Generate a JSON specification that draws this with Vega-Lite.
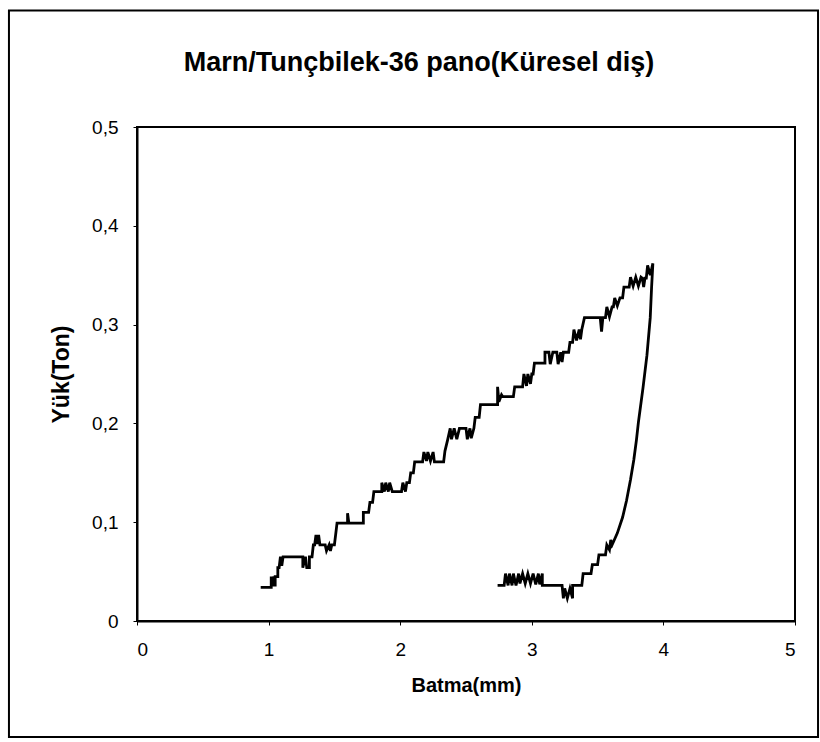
{
  "$schema": "https://vega.github.io/schema/vega-lite/v6.json",
  "autosize": {"type": "none"},
  "padding": {"left": 137, "top": 127, "right": 25, "bottom": 121},
  "width": 658,
  "height": 494,
  "background": "white",
  "title": {
    "text": "Marn/Tunçbilek-36 pano(Küresel diş)",
    "font": "Liberation Sans",
    "fontSize": 27,
    "fontWeight": "bold",
    "color": "black",
    "anchor": "middle",
    "frame": "group",
    "dx": -47,
    "offset": 0,
    "dy": 68
  },
  "config": {
    "view": {"stroke": "black", "strokeWidth": 2},
    "axis": {
      "domainColor": "black",
      "domainWidth": 2,
      "tickColor": "black",
      "tickSize": 4,
      "grid": false,
      "labelFont": "Liberation Sans",
      "labelFontSize": 19,
      "labelColor": "black",
      "titleFont": "Liberation Sans",
      "titleFontWeight": "bold",
      "titleColor": "black"
    }
  },
  "datasets": {
    "curve": [
      {"i": 1, "x": 0.94, "y": 0.034},
      {"i": 2, "x": 1.02, "y": 0.034},
      {"i": 3, "x": 1.02, "y": 0.045},
      {"i": 4, "x": 1.03, "y": 0.035},
      {"i": 5, "x": 1.04, "y": 0.045},
      {"i": 6, "x": 1.05, "y": 0.035},
      {"i": 7, "x": 1.05, "y": 0.045},
      {"i": 8, "x": 1.07, "y": 0.045},
      {"i": 9, "x": 1.07, "y": 0.054},
      {"i": 10, "x": 1.08, "y": 0.054},
      {"i": 11, "x": 1.09, "y": 0.065},
      {"i": 12, "x": 1.10, "y": 0.056},
      {"i": 13, "x": 1.11, "y": 0.065},
      {"i": 14, "x": 1.26, "y": 0.065},
      {"i": 15, "x": 1.26, "y": 0.054},
      {"i": 16, "x": 1.28, "y": 0.065},
      {"i": 17, "x": 1.29, "y": 0.054},
      {"i": 18, "x": 1.31, "y": 0.054},
      {"i": 19, "x": 1.31, "y": 0.065},
      {"i": 20, "x": 1.33, "y": 0.065},
      {"i": 21, "x": 1.34, "y": 0.077},
      {"i": 22, "x": 1.35, "y": 0.077},
      {"i": 23, "x": 1.36, "y": 0.087},
      {"i": 24, "x": 1.37, "y": 0.078},
      {"i": 25, "x": 1.38, "y": 0.087},
      {"i": 26, "x": 1.39, "y": 0.077},
      {"i": 27, "x": 1.43, "y": 0.077},
      {"i": 28, "x": 1.44, "y": 0.071},
      {"i": 29, "x": 1.46, "y": 0.077},
      {"i": 30, "x": 1.47, "y": 0.071},
      {"i": 31, "x": 1.48, "y": 0.077},
      {"i": 32, "x": 1.50, "y": 0.077},
      {"i": 33, "x": 1.51, "y": 0.088},
      {"i": 34, "x": 1.52, "y": 0.099},
      {"i": 35, "x": 1.60, "y": 0.099},
      {"i": 36, "x": 1.60, "y": 0.109},
      {"i": 37, "x": 1.61, "y": 0.099},
      {"i": 38, "x": 1.72, "y": 0.099},
      {"i": 39, "x": 1.72, "y": 0.11},
      {"i": 40, "x": 1.76, "y": 0.11},
      {"i": 41, "x": 1.77, "y": 0.12},
      {"i": 42, "x": 1.79, "y": 0.12},
      {"i": 43, "x": 1.80, "y": 0.131},
      {"i": 44, "x": 1.86, "y": 0.131},
      {"i": 45, "x": 1.86, "y": 0.14},
      {"i": 46, "x": 1.88, "y": 0.131},
      {"i": 47, "x": 1.89, "y": 0.14},
      {"i": 48, "x": 1.91, "y": 0.131},
      {"i": 49, "x": 1.92, "y": 0.14},
      {"i": 50, "x": 1.94, "y": 0.131},
      {"i": 51, "x": 2.01, "y": 0.131},
      {"i": 52, "x": 2.02, "y": 0.14},
      {"i": 53, "x": 2.04, "y": 0.131},
      {"i": 54, "x": 2.05, "y": 0.14},
      {"i": 55, "x": 2.07, "y": 0.14},
      {"i": 56, "x": 2.08, "y": 0.15},
      {"i": 57, "x": 2.10, "y": 0.15},
      {"i": 58, "x": 2.11, "y": 0.161},
      {"i": 59, "x": 2.17, "y": 0.161},
      {"i": 60, "x": 2.18, "y": 0.171},
      {"i": 61, "x": 2.20, "y": 0.162},
      {"i": 62, "x": 2.21, "y": 0.171},
      {"i": 63, "x": 2.23, "y": 0.162},
      {"i": 64, "x": 2.25, "y": 0.171},
      {"i": 65, "x": 2.26, "y": 0.161},
      {"i": 66, "x": 2.33, "y": 0.161},
      {"i": 67, "x": 2.34, "y": 0.172},
      {"i": 68, "x": 2.36, "y": 0.183},
      {"i": 69, "x": 2.38, "y": 0.195},
      {"i": 70, "x": 2.39, "y": 0.184},
      {"i": 71, "x": 2.41, "y": 0.195},
      {"i": 72, "x": 2.43, "y": 0.184},
      {"i": 73, "x": 2.45, "y": 0.195},
      {"i": 74, "x": 2.50, "y": 0.195},
      {"i": 75, "x": 2.51, "y": 0.184},
      {"i": 76, "x": 2.53, "y": 0.195},
      {"i": 77, "x": 2.54, "y": 0.185},
      {"i": 78, "x": 2.56, "y": 0.195},
      {"i": 79, "x": 2.57, "y": 0.206},
      {"i": 80, "x": 2.60, "y": 0.206},
      {"i": 81, "x": 2.61, "y": 0.219},
      {"i": 82, "x": 2.74, "y": 0.219},
      {"i": 83, "x": 2.74, "y": 0.237},
      {"i": 84, "x": 2.75, "y": 0.222},
      {"i": 85, "x": 2.77, "y": 0.229},
      {"i": 86, "x": 2.78, "y": 0.227},
      {"i": 87, "x": 2.86, "y": 0.227},
      {"i": 88, "x": 2.87, "y": 0.237},
      {"i": 89, "x": 2.93, "y": 0.237},
      {"i": 90, "x": 2.94, "y": 0.25},
      {"i": 91, "x": 2.96, "y": 0.238},
      {"i": 92, "x": 2.97, "y": 0.25},
      {"i": 93, "x": 2.99, "y": 0.24},
      {"i": 94, "x": 3.00, "y": 0.25},
      {"i": 95, "x": 3.01, "y": 0.25},
      {"i": 96, "x": 3.02, "y": 0.261},
      {"i": 97, "x": 3.10, "y": 0.261},
      {"i": 98, "x": 3.10, "y": 0.272},
      {"i": 99, "x": 3.13, "y": 0.272},
      {"i": 100, "x": 3.14, "y": 0.26},
      {"i": 101, "x": 3.16, "y": 0.272},
      {"i": 102, "x": 3.19, "y": 0.272},
      {"i": 103, "x": 3.20, "y": 0.26},
      {"i": 104, "x": 3.22, "y": 0.272},
      {"i": 105, "x": 3.23, "y": 0.262},
      {"i": 106, "x": 3.24, "y": 0.272},
      {"i": 107, "x": 3.28, "y": 0.272},
      {"i": 108, "x": 3.29, "y": 0.282},
      {"i": 109, "x": 3.31, "y": 0.282},
      {"i": 110, "x": 3.32, "y": 0.295},
      {"i": 111, "x": 3.34, "y": 0.284},
      {"i": 112, "x": 3.36, "y": 0.295},
      {"i": 113, "x": 3.37, "y": 0.285},
      {"i": 114, "x": 3.38, "y": 0.295},
      {"i": 115, "x": 3.40, "y": 0.307},
      {"i": 116, "x": 3.52, "y": 0.307},
      {"i": 117, "x": 3.53, "y": 0.293},
      {"i": 118, "x": 3.54, "y": 0.307},
      {"i": 119, "x": 3.56, "y": 0.307},
      {"i": 120, "x": 3.57, "y": 0.318},
      {"i": 121, "x": 3.59, "y": 0.308},
      {"i": 122, "x": 3.61, "y": 0.318},
      {"i": 123, "x": 3.62, "y": 0.318},
      {"i": 124, "x": 3.63, "y": 0.327},
      {"i": 125, "x": 3.65, "y": 0.319},
      {"i": 126, "x": 3.67, "y": 0.327},
      {"i": 127, "x": 3.69, "y": 0.327},
      {"i": 128, "x": 3.70, "y": 0.338},
      {"i": 129, "x": 3.74, "y": 0.338},
      {"i": 130, "x": 3.75, "y": 0.348},
      {"i": 131, "x": 3.77, "y": 0.339},
      {"i": 132, "x": 3.79, "y": 0.348},
      {"i": 133, "x": 3.81, "y": 0.339},
      {"i": 134, "x": 3.83, "y": 0.348},
      {"i": 135, "x": 3.84, "y": 0.347},
      {"i": 136, "x": 3.85, "y": 0.338},
      {"i": 137, "x": 3.86, "y": 0.347},
      {"i": 138, "x": 3.87, "y": 0.347},
      {"i": 139, "x": 3.88, "y": 0.36},
      {"i": 140, "x": 3.90, "y": 0.35},
      {"i": 141, "x": 3.92, "y": 0.362},
      {"i": 142, "x": 3.91, "y": 0.337},
      {"i": 143, "x": 3.90, "y": 0.307},
      {"i": 144, "x": 3.875, "y": 0.269},
      {"i": 145, "x": 3.845, "y": 0.236},
      {"i": 146, "x": 3.81, "y": 0.201},
      {"i": 147, "x": 3.795, "y": 0.183},
      {"i": 148, "x": 3.775, "y": 0.163},
      {"i": 149, "x": 3.75, "y": 0.143},
      {"i": 150, "x": 3.72, "y": 0.122},
      {"i": 151, "x": 3.69, "y": 0.105},
      {"i": 152, "x": 3.65, "y": 0.089},
      {"i": 153, "x": 3.62, "y": 0.08},
      {"i": 154, "x": 3.61, "y": 0.077},
      {"i": 155, "x": 3.60, "y": 0.082},
      {"i": 156, "x": 3.59, "y": 0.072},
      {"i": 157, "x": 3.57, "y": 0.077},
      {"i": 158, "x": 3.56, "y": 0.067},
      {"i": 159, "x": 3.51, "y": 0.067},
      {"i": 160, "x": 3.50, "y": 0.057},
      {"i": 161, "x": 3.46, "y": 0.057},
      {"i": 162, "x": 3.45, "y": 0.048},
      {"i": 163, "x": 3.39, "y": 0.048},
      {"i": 164, "x": 3.38, "y": 0.036},
      {"i": 165, "x": 3.31, "y": 0.036},
      {"i": 166, "x": 3.31, "y": 0.023},
      {"i": 167, "x": 3.29, "y": 0.033},
      {"i": 168, "x": 3.27, "y": 0.023},
      {"i": 169, "x": 3.25, "y": 0.033},
      {"i": 170, "x": 3.24, "y": 0.023},
      {"i": 171, "x": 3.23, "y": 0.036},
      {"i": 172, "x": 3.08, "y": 0.036},
      {"i": 173, "x": 3.08, "y": 0.048},
      {"i": 174, "x": 3.06, "y": 0.037},
      {"i": 175, "x": 3.05, "y": 0.048},
      {"i": 176, "x": 3.03, "y": 0.037},
      {"i": 177, "x": 3.01, "y": 0.048},
      {"i": 178, "x": 2.99, "y": 0.038},
      {"i": 179, "x": 2.97, "y": 0.048},
      {"i": 180, "x": 2.95, "y": 0.038},
      {"i": 181, "x": 2.93, "y": 0.048},
      {"i": 182, "x": 2.91, "y": 0.038},
      {"i": 183, "x": 2.90, "y": 0.048},
      {"i": 184, "x": 2.88, "y": 0.036},
      {"i": 185, "x": 2.86, "y": 0.048},
      {"i": 186, "x": 2.85, "y": 0.036},
      {"i": 187, "x": 2.83, "y": 0.048},
      {"i": 188, "x": 2.82, "y": 0.036},
      {"i": 189, "x": 2.80, "y": 0.048},
      {"i": 190, "x": 2.79, "y": 0.036},
      {"i": 191, "x": 2.74, "y": 0.036}
    ]
  },
  "layer": [
    {
      "data": {"values": [{}]},
      "mark": {"type": "rect", "filled": false, "fill": null, "stroke": "black", "strokeWidth": 2, "clip": false},
      "encoding": {
        "x": {"datum": -0.973, "type": "quantitative"},
        "x2": {"datum": 5.175},
        "y": {"datum": 0.618, "type": "quantitative"},
        "y2": {"datum": -0.1174}
      }
    },
    {
      "data": {"name": "curve"},
      "mark": {"type": "line", "color": "black", "strokeWidth": 2.8, "strokeJoin": "miter", "clip": true},
      "encoding": {
        "x": {
          "field": "x",
          "type": "quantitative",
          "scale": {"domain": [0, 5], "nice": false, "zero": false},
          "axis": {"title": "Batma(mm)", "titleFontSize": 20, "values": [0, 1, 2, 3, 4, 5], "format": "d", "labelPadding": 15, "titlePadding": 16}
        },
        "y": {
          "field": "y",
          "type": "quantitative",
          "scale": {"domain": [0, 0.5], "nice": false},
          "axis": {
            "title": "Yük(Ton)",
            "titleFontSize": 23,
            "values": [0, 0.1, 0.2, 0.3, 0.4, 0.5],
            "labelExpr": "datum.value == 0 ? '0' : replace(format(datum.value, '.1f'), '.', ',')",
            "labelPadding": 15,
            "titlePadding": 18
          }
        },
        "order": {"field": "i", "type": "quantitative"}
      }
    }
  ]
}
